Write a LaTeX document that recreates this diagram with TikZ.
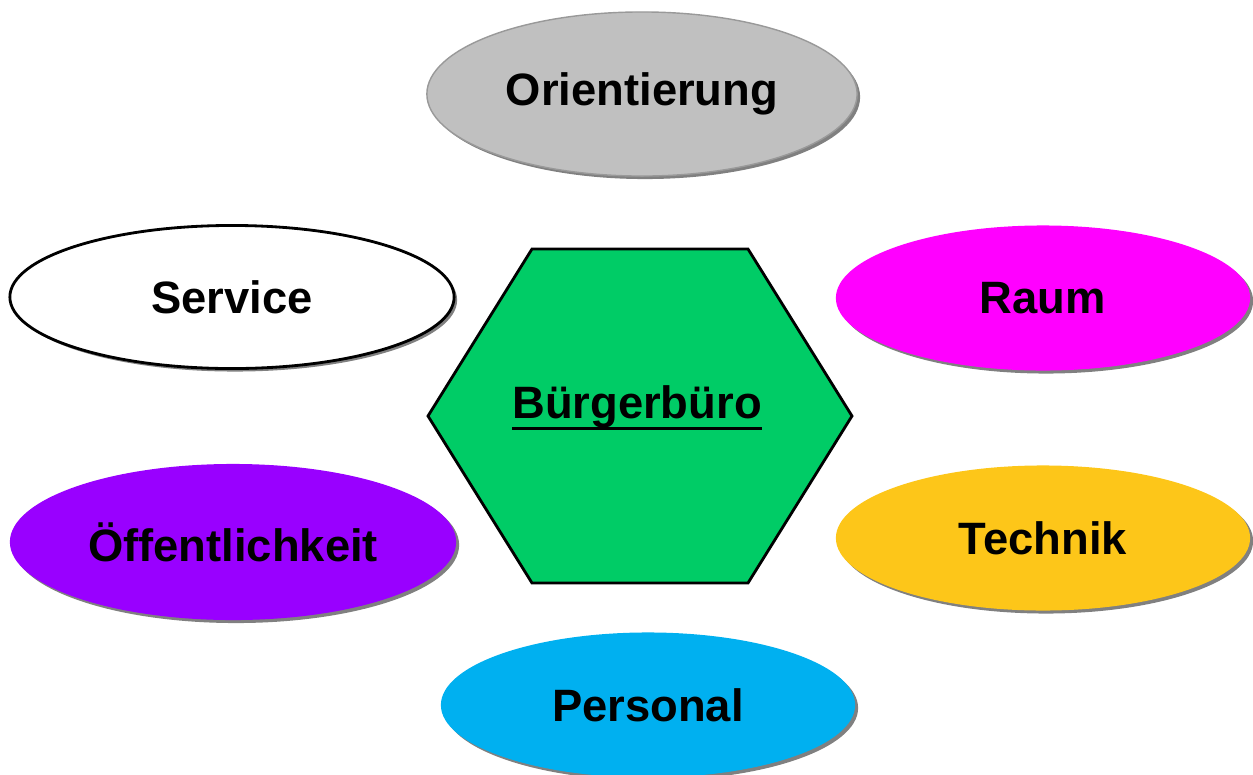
\documentclass[tikz,border=0pt]{standalone}
\usepackage{fontspec}
\setmainfont{Liberation Sans}
\usetikzlibrary{shapes,shadows}

\definecolor{orientgray}{HTML}{C0C0C0}
\definecolor{raumpink}{HTML}{FF00FF}
\definecolor{oeffviolet}{HTML}{9900FF}
\definecolor{technikgold}{HTML}{FDC619}
\definecolor{personalblue}{HTML}{00B0F0}
\definecolor{buerogreen}{HTML}{00CC66}

% thick underline as in the reference
\newcommand{\heavyuline}[1]{\setbox0=\hbox{#1}\rlap{\rule[-0.24em]{\wd0}{0.065em}}\box0}

\tikzset{
  topic/.style={ellipse, minimum width=4.14cm, minimum height=1.45cm,
    font=\bfseries\fontsize{12.9}{14}\selectfont, inner sep=0pt,
    copy shadow={shadow xshift=0.03cm, shadow yshift=-0.03cm, fill=black!50, draw=none}},
}

\begin{document}
\begin{tikzpicture}[x=0.01cm,y=-0.01cm]
    \useasboundingbox (0,0) rectangle (1253,775);
    \coordinate (H0) at (532,249);
    \coordinate (H1) at (748,249);
    \coordinate (H2) at (852,416);
    \coordinate (H3) at (748,583);
    \coordinate (H4) at (532,583);
    \coordinate (H5) at (428,416);
      \fill [black!50, xshift=0.04cm, yshift=-0.04cm]
        (H0) -- (H1) -- (H2) -- (H3) -- (H4) -- (H5) -- cycle;
      \draw [fill=buerogreen, thick]
        (H0) -- (H1) -- (H2) -- (H3) -- (H4) -- (H5) -- cycle;
      \node (buero) [font=\bfseries\fontsize{12.9}{14}\selectfont] at (637,408)
        {\heavyuline{Bürgerbüro}};
      \node (orient) [topic, fill=orientgray, draw=black!40,
        minimum width=4.3cm, minimum height=1.64cm] at (642,94) {Orientierung};
      \node (service) [topic, fill=white, draw=black, thick,
        minimum width=4.44cm, minimum height=1.43cm] at (232,297) {Service};
      \node (raum) [topic, fill=raumpink] at (1043,298) {Raum};
      \node (oeff) [topic, fill=oeffviolet,
        minimum width=4.46cm, minimum height=1.56cm] at (233,542) {Öffentlichkeit};
      \node (technik) [topic, fill=technikgold] at (1043,538) {Technik};
      \node (personal) [topic, fill=personalblue] at (648,705) {Personal};
  \end{tikzpicture}
\end{document}
